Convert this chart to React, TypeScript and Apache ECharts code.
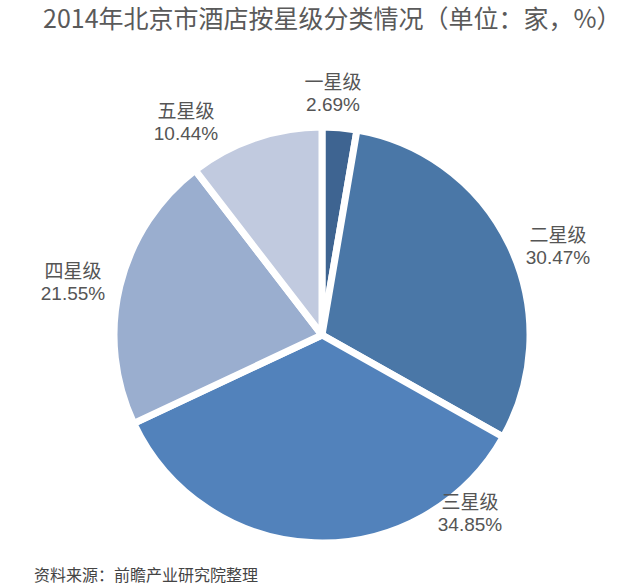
import React, { useEffect, useRef } from "react";
import * as echarts from "echarts";

const categories = ["一星级", "二星级", "三星级", "四星级", "五星级"];
const values = [2.69, 30.47, 34.85, 21.55, 10.44];
const colors = ["#3e6491", "#4a77a7", "#5282bb", "#9aaecf", "#c1cadf"];
// label centre positions (px) for each slice label
const labelPos = [
  [333, 93],
  [558, 246],
  [470, 513],
  [73, 282],
  [186, 122],
];

export default function App() {
  const ref = useRef<HTMLDivElement>(null);
  useEffect(() => {
    document.body.style.margin = "0";
    const chart = echarts.init(ref.current!, null, { renderer: "svg" });
    chart.setOption({
      animation: false,
      backgroundColor: "#ffffff",
      title: [
        {
          text: "2014年北京市酒店按星级分类情况（单位：家，%）",
          left: 38,
          top: -1,
          textStyle: {
            fontFamily: "Noto Sans CJK SC",
            fontSize: 25,
            fontWeight: "normal",
            color: "#5a5a5a",
          },
        },
        {
          text: "资料来源：前瞻产业研究院整理",
          left: 29,
          top: 561,
          textStyle: {
            fontFamily: "Noto Sans CJK SC",
            fontSize: 16,
            fontWeight: "normal",
            color: "#444444",
          },
        },
      ],
      series: [
        {
          type: "pie",
          center: [322, 335],
          radius: [0, 208],
          startAngle: 90,
          clockwise: true,
          data: categories.map((c, i) => ({
            name: c,
            value: values[i],
            itemStyle: { color: colors[i] },
          })),
          itemStyle: { borderColor: "#ffffff", borderWidth: 7 },
          label: {
            show: true,
            position: "outside",
            overflow: "none",
            formatter: (p: any) => `${p.name}\n${values[p.dataIndex].toFixed(2)}%`,
            fontFamily: "Arial, Liberation Sans, Noto Sans CJK SC",
            fontSize: 19,
            lineHeight: 22,
            color: "#555555",
          },
          labelLine: { show: false },
          labelLayout: (params: any) => {
            const pos = labelPos[params.dataIndex];
            return {
              x: pos[0],
              y: pos[1],
              align: "center",
              verticalAlign: "middle",
            };
          },
        },
      ],
    });
    return () => chart.dispose();
  }, []);
  return <div ref={ref} style={{ width: 634, height: 586 }} />;
}
